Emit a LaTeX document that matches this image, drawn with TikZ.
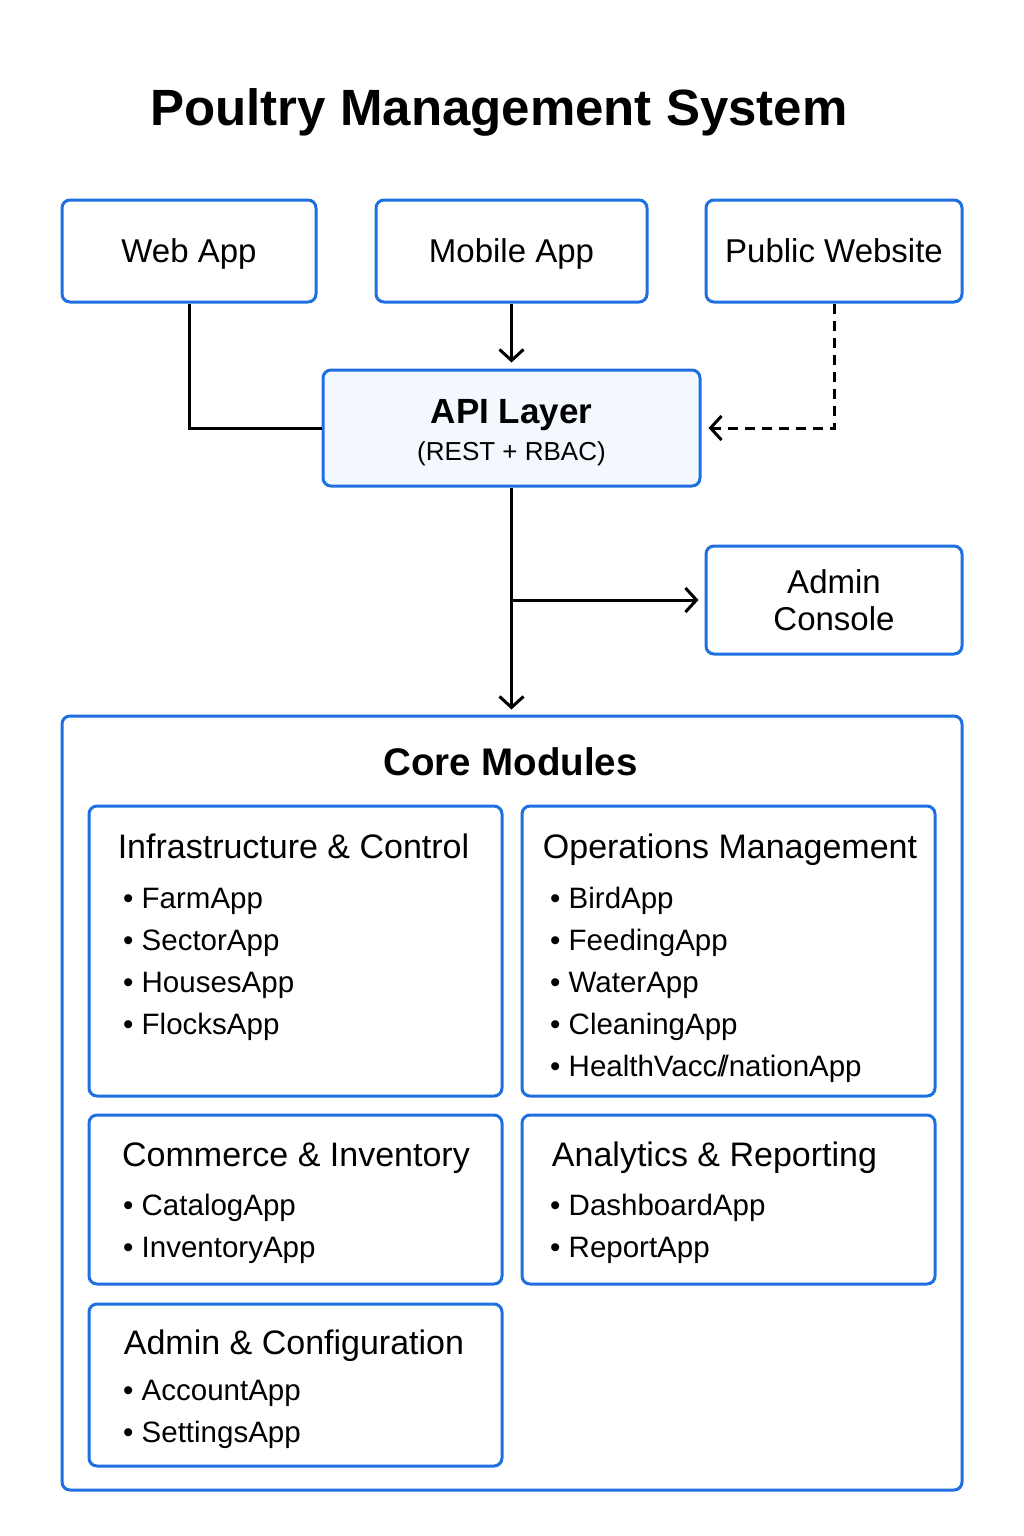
\documentclass[tikz,border=0pt]{standalone}
\usepackage{fontspec}
\setmainfont{Liberation Sans}
\usetikzlibrary{arrows.meta}
\definecolor{boxblue}{HTML}{1E6FE0}
\definecolor{apifill}{HTML}{F3F7FE}
\newcommand{\setfs}[1]{\fontsize{#1}{#1}\selectfont}
\begin{document}
\begin{tikzpicture}[
		x=1pt, y=-1pt,
		box/.style={draw=boxblue, line width=3pt, rounded corners=8pt, inner sep=0pt, text depth=0pt, align=center, font=\setfs{33}},
		head/.style={anchor=base, inner sep=0pt, font=\setfs{34}},
		item/.style={anchor=base west, inner sep=0pt, font=\setfs{29.5}},
		arr/.style={line width=3pt, -{Straight Barb[length=11pt,width=24pt]}},
		link/.style={line width=3pt}
	]
	\useasboundingbox (0,0) rectangle (1024,1536);

	\node[anchor=base, inner sep=0pt, font=\setfs{51}\bfseries] (title) at (499,125) {Poultry Management System};

	% clients
	\node[box, minimum width=254, minimum height=102] (web) at (189,251) {Web App};
	\node[box, minimum width=271, minimum height=102] (mobile) at (511.5,251) {Mobile App};
	\node[box, minimum width=256, minimum height=102] (public) at (834,251) {Public Website};

	\node[box, fill=apifill, minimum width=377, minimum height=116] (api) at (511.5,428)
		{\raisebox{-3pt}{\setfs{35}\bfseries API Layer}\\[4pt]\raisebox{-3pt}{\setfs{26}(REST + RBAC)}};

	\node[box, minimum width=256, minimum height=108, font=\fontsize{33}{37}\selectfont] (admin) at (834,600) {Admin\\Console};

	% core modules
	\node[box, minimum width=900, minimum height=774] (core) at (512,1103) {};
	\node[anchor=base, inner sep=0pt, font=\setfs{38.5}\bfseries] (coretitle) at (510.5,775) {Core Modules};

	\node[box, minimum width=413, minimum height=290] (infra) at (295.5,951) {};
	\node[box, minimum width=413, minimum height=290] (ops) at (728.5,951) {};
	\node[box, minimum width=413, minimum height=169] (comm) at (295.5,1199.5) {};
	\node[box, minimum width=413, minimum height=169] (anal) at (728.5,1199.5) {};
	\node[box, minimum width=413, minimum height=162] (adm) at (295.5,1385) {};

	\node[head] (infrahead) at (293.5,858) {Infrastructure \& Control};
	\node[head] (opshead) at (730,858) {Operations Management};
	\node[head] (commhead) at (296,1166) {Commerce \& Inventory};
	\node[head] (analhead) at (714.5,1166) {Analytics \& Reporting};
	\node[head] (admhead) at (294,1354) {Admin \& Configuration};

	\foreach \app [count=\i] in {FarmApp,SectorApp,HousesApp,FlocksApp}
		\node[item] (infra\i) at (123,908+42*\i-42) {\textbullet\ \app};
	\foreach \app [count=\i] in {BirdApp,FeedingApp,WaterApp,CleaningApp,{HealthVacc/\kern-5pt/nationApp}}
		\node[item] (ops\i) at (550,908+42*\i-42) {\textbullet\ \app};
	\foreach \app [count=\i] in {CatalogApp,InventoryApp}
		\node[item] (comm\i) at (123,1215+42*\i-42) {\textbullet\ \app};
	\foreach \app [count=\i] in {DashboardApp,ReportApp}
		\node[item] (anal\i) at (550,1215+42*\i-42) {\textbullet\ \app};
	\foreach \app [count=\i] in {AccountApp,SettingsApp}
		\node[item] (adm\i) at (123,1400+42*\i-42) {\textbullet\ \app};

	% connectors
	\coordinate (split) at (api.south |- admin.west);
	\draw[link] (web.south) |- (api.west);
	\draw[arr] (mobile.south) -- ([yshift=6pt]api.north);
	\draw[arr, dash pattern=on 10pt off 7pt] (public.south) |- ([xshift=7pt]api.east);
	\draw[arr] (api.south) -- ([yshift=5pt]api.south |- core.north);
	\draw[arr] (split) -- ([xshift=-6pt]admin.west);

\end{tikzpicture}
\end{document}
